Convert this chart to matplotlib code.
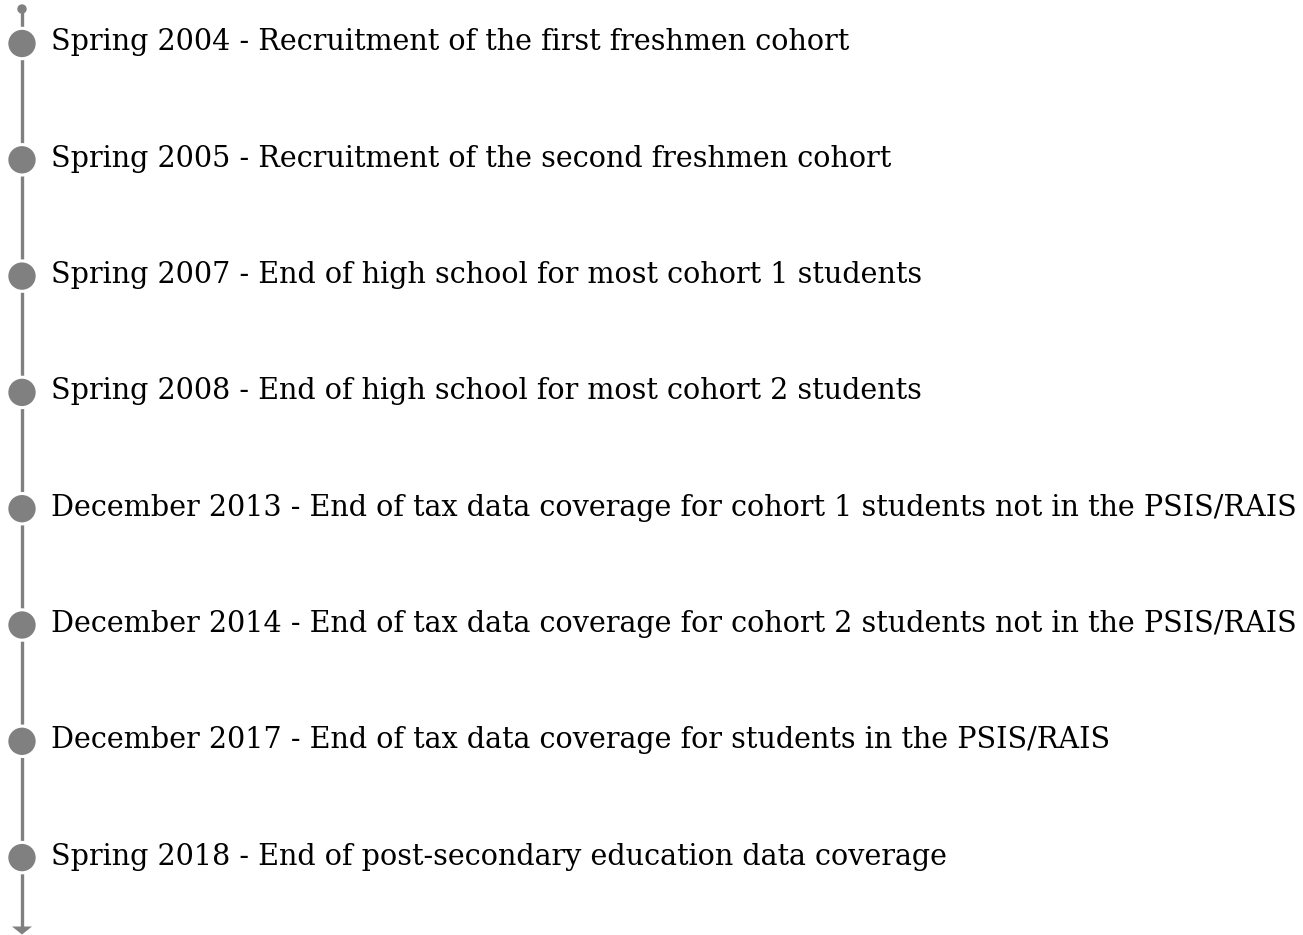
import matplotlib
matplotlib.use("Agg")
import matplotlib.pyplot as plt
from matplotlib.patches import Circle

labels = [
    "Spring 2004 - Recruitment of the first freshmen cohort",
    "Spring 2005 - Recruitment of the second freshmen cohort",
    "Spring 2007 - End of high school for most cohort 1 students",
    "Spring 2008 - End of high school for most cohort 2 students",
    "December 2013 - End of tax data coverage for cohort 1 students not in the PSIS/RAIS",
    "December 2014 - End of tax data coverage for cohort 2 students not in the PSIS/RAIS",
    "December 2017 - End of tax data coverage for students in the PSIS/RAIS",
    "Spring 2018 - End of post-secondary education data coverage",
]
positions = list(range(len(labels)))

W, H = 1303, 935
fig = plt.figure(figsize=(W / 100, H / 100), dpi=100)
ax = fig.add_axes([0, 0, 1, 1])
ax.set_xlim(0, W)
ax.set_ylim(H, 0)
ax.axis("off")

gray = "#808080"
y0, step = 43.5, 116.3
xline = 22

ys = [y0 + step * p for p in positions]
ax.plot([xline, xline], [9, 928], color=gray, lw=2.4, solid_capstyle="butt", zorder=1)
ax.add_patch(Circle((xline, 9), 4, color=gray, zorder=2))
ax.fill([xline - 10, xline + 10, xline], [926.5, 926.5, 934.5], color=gray, zorder=2, lw=0)

for y, lab in zip(ys, labels):
    ax.add_patch(Circle((xline, y), 15.2, facecolor=gray, edgecolor="white", lw=2.2, zorder=3))
    ax.text(51, y + 7, lab, fontsize=20.6, family="DejaVu Serif", va="baseline", ha="left", color="black")

fig.savefig("out.png", dpi=100)
